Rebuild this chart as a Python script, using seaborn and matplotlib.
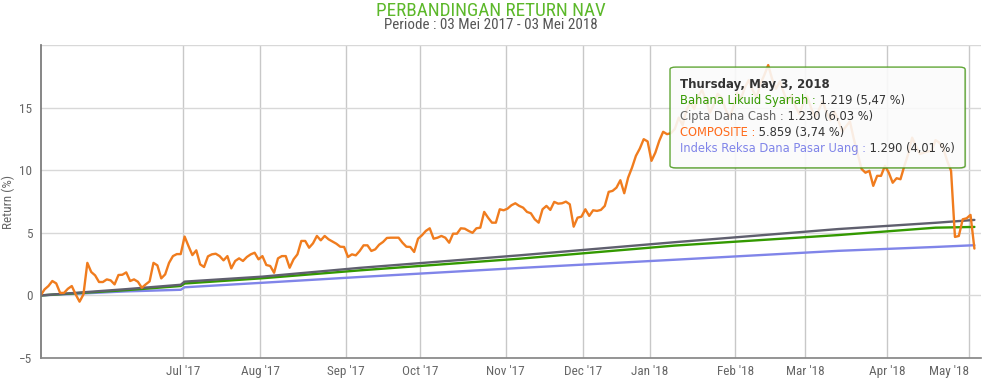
import numpy as np
import pandas as pd
import matplotlib
matplotlib.use("Agg")
import matplotlib.pyplot as plt
from matplotlib import font_manager as fm
from matplotlib.transforms import ScaledTranslation
import seaborn as sns
from matplotlib.patches import FancyBboxPatch

# days without a published NAV, May 2017 - May 2018
no_nav_days = ["2017-05-11", "2017-06-26", "2017-06-27", "2017-06-28", "2017-06-29",
               "2017-06-30", "2017-07-17", "2017-08-17", "2017-09-01", "2017-09-21",
               "2017-11-10", "2017-11-24", "2017-12-01", "2017-12-25", "2017-12-26",
               "2017-12-29", "2018-01-01", "2018-02-16", "2018-02-23", "2018-03-30",
               "2018-05-01"]
days = pd.bdate_range("2017-05-03", "2018-05-03").difference(pd.to_datetime(no_nav_days))

# COMPOSITE return (%) per NAV day
composite = [
    0.0, 0.48, 0.75, 1.15, 0.96, 0.2, 0.2, 0.53, 0.75, 0.08, -0.5, 0.08, 2.6, 1.87,
    1.6, 1.07, 1.07, 1.28, 1.2, 0.88, 1.63, 1.65, 1.84, 1.15, 1.28, 1.09, 0.61, 0.88,
    1.12, 2.6, 2.4, 1.36, 1.68, 2.6, 3.14, 3.3, 3.3, 4.7, 3.94, 3.22, 3.6, 2.48,
    2.27, 3.12, 3.28, 3.33, 3.14, 2.8, 3.14, 2.16, 2.75, 2.96, 2.75, 3.07, 3.28, 3.41,
    2.88, 3.14, 2.43, 2.35, 1.81, 2.96, 3.14, 3.14, 2.21, 2.88, 3.28, 4.35, 4.35, 3.81,
    4.16, 4.75, 4.4, 4.75, 4.48, 4.3, 4.13, 3.89, 3.87, 3.07, 3.28, 3.2,
    3.55, 4.0, 4.0, 3.55, 3.68, 4.05, 4.27, 4.59, 4.61, 4.61, 4.61, 4.21, 3.89, 3.87,
    3.47, 4.53, 4.8, 5.15, 5.36, 4.53, 4.61, 4.75, 4.61, 4.21, 4.93, 4.93, 5.36, 5.33,
    5.15, 5.0, 5.36, 5.41, 6.67, 6.21, 5.81, 5.81, 6.88, 6.8, 6.93, 7.2, 7.36,
    7.15, 7.01, 6.67, 6.56, 6.08, 5.81, 6.88, 7.15, 6.83, 7.47, 7.33, 7.36, 7.49, 7.28,
    5.49, 6.21, 6.29, 6.88, 6.35, 6.8, 6.75, 6.83, 7.15, 8.27, 8.35, 8.61, 9.2, 8.16,
    9.41, 10.21, 11.15, 11.73, 12.48, 12.3, 10.75, 11.41, 12.35, 13.07, 12.88, 12.96,
    13.3, 14.2, 13.6, 14.8, 15.4, 14.9, 15.9, 16.4, 15.6, 14.6, 15.2, 16.1, 15.8, 14.9,
    14.2, 15.0, 16.2, 15.7, 16.6, 17.2, 16.4, 15.8, 16.9, 17.6, 18.4, 17.3, 16.5, 17.1,
    16.2, 15.4, 16.0, 15.1, 14.5, 15.3, 15.9, 15.0, 14.2, 14.8, 15.5, 14.6, 14.0, 14.7,
    14.0, 13.1, 13.5, 13.9, 12.5, 11.3, 10.1, 9.8, 9.95, 8.75, 9.55, 9.55, 10.35, 9.8,
    9.0, 9.36, 9.28, 10.35, 11.3, 12.6, 11.9, 11.3, 11.4, 11.5, 11.55, 12.4, 12.2, 11.75,
    10.75, 9.95, 4.67, 4.75, 6.08, 6.16, 6.43, 3.74]

# smooth money-market series, read at a few dates
anchor_dates = ["2017-05-03", "2017-06-05", "2017-06-23", "2017-07-03", "2017-08-01",
                "2017-09-07", "2017-11-06", "2018-01-10", "2018-03-13", "2018-04-18",
                "2018-05-03"]
cipta = [0.0, 0.5, 0.85, 1.1, 1.5, 2.2, 3.2, 4.25, 5.3, 5.8, 6.03]
bahana = [0.0, 0.42, 0.75, 0.95, 1.37, 2.0, 2.93, 3.98, 4.82, 5.41, 5.47]
indeks = [0.0, 0.32, 0.45, 0.65, 1.01, 1.47, 2.19, 2.85, 3.56, 3.87, 4.01]

series_names = ["Bahana Likuid Syariah", "Cipta Dana Cash", "COMPOSITE",
                "Indeks Reksa Dana Pasar Uang"]
nav_values = ["1.219", "1.230", "5.859", "1.290"]
colors = {"Bahana Likuid Syariah": "#339900", "Cipta Dana Cash": "#5f5f6e",
          "COMPOSITE": "#f07c1e", "Indeks Reksa Dana Pasar Uang": "#8085e9"}
label_colors = ["#339900", "#666666", "#ff6a1a", "#8085e9"]

pos = np.arange(len(days))
anchor_pos = days.searchsorted(pd.to_datetime(anchor_dates))
frames = [pd.DataFrame({"x": pos, "ret": composite, "fund": "COMPOSITE"})]
for name, vals in [("Cipta Dana Cash", cipta), ("Bahana Likuid Syariah", bahana),
                   ("Indeks Reksa Dana Pasar Uang", indeks)]:
    frames.append(pd.DataFrame({"x": anchor_pos, "ret": vals, "fund": name}))
df = pd.concat(frames, ignore_index=True)

sns.set_theme(style="white")
plt.rcParams["font.family"] = ["DejaVu Sans"]
installed = {f.name for f in fm.fontManager.ttflist}
narrow = next((n for n in ["Liberation Sans Narrow", "Roboto Condensed",
                           "Open Sans Condensed"] if n in installed), "DejaVu Sans")
nfont = dict(family=narrow, fontstretch="condensed")

fig = plt.figure(figsize=(9.82, 3.79), dpi=100)
ax = fig.add_axes([0.0414, 0.0554, 0.9576, 0.8258])

for name in ["Indeks Reksa Dana Pasar Uang", "Bahana Likuid Syariah",
             "Cipta Dana Cash", "COMPOSITE"]:
    sns.lineplot(data=df[df.fund == name], x="x", y="ret", color=colors[name],
                 lw=1.7, ax=ax, sort=False, estimator=None, legend=False)

# month ticks on the boundary before the first NAV day of each month
month_first = pd.Series(pos, index=days).groupby(days.to_period("M")).min().iloc[2:]
ax.set_xticks(month_first.values - 0.5)
ax.set_xticklabels([f"{p.strftime('%b')} '{p.strftime('%y')}" for p in month_first.index],
                   fontsize=9.5, color="#666666", **nfont)
last = ax.get_xticklabels()[-1]
last.set_horizontalalignment("right")
last.set_transform(last.get_transform() + ScaledTranslation(0.13, 0, fig.dpi_scale_trans))
ax.set_xlim(0, 241.7)
ax.set_ylim(-5, 20)
ax.set_yticks([-5, 0, 5, 10, 15, 20])
ax.set_yticklabels(["\u22125", "0", "5", "10", "15", ""], fontsize=9.5,
                   color="#666666", **nfont)
ax.set_xlabel("")
ax.set_ylabel("Return (%)", fontsize=9.5, color="#666666", **nfont)
ax.yaxis.set_label_coords(-0.0275, 0.5)

ax.grid(True, axis="y", color="#d8d8d8", lw=1)
ax.grid(True, axis="x", color="#c8c8c8", lw=1)
ax.tick_params(axis="x", colors="#cc0000", length=4, width=1, pad=1,
               labelcolor="#666666")
ax.tick_params(axis="y", colors="#888888", length=3, width=1, pad=3,
               labelcolor="#666666")
for s in ["top", "right"]:
    ax.spines[s].set_visible(False)
ax.spines["left"].set_color("#777777")
ax.spines["bottom"].set_color("#888888")

fig.text(0.5, 0.995, "PERBANDINGAN RETURN NAV", ha="center", va="top",
         fontsize=13.8, color="#5cb82a", **nfont)
fig.text(0.5, 0.952, "Periode : 03 Mei 2017 - 03 Mei 2018", ha="center", va="top",
         fontsize=10.8, color="#555555", **nfont)

# tooltip
shadow = FancyBboxPatch((0.6835, 0.554), 0.3005, 0.266, transform=fig.transFigure,
                        boxstyle="round,pad=0,rounding_size=0.006",
                        fc="#000000", ec="none", alpha=0.12, zorder=5)
box = FancyBboxPatch((0.6823, 0.557), 0.3005, 0.266, transform=fig.transFigure,
                     boxstyle="round,pad=0,rounding_size=0.006",
                     fc="white", ec="#4a9a1a", lw=1, alpha=0.88, zorder=6)
fig.add_artist(shadow)
fig.add_artist(box)
fig.text(0.6925, 0.776, "Thursday, May 3, 2018", fontsize=8.5, weight="bold",
         color="#333333", va="center", zorder=7)
finals = [bahana[-1], cipta[-1], composite[-1], indeks[-1]]
renderer = fig.canvas.get_renderer()
for i, (name, nav, ret) in enumerate(zip(series_names, nav_values, finals)):
    y = 0.734 - i * 0.042
    t = fig.text(0.6925, y, name + " :", fontsize=8.3, color=label_colors[i],
                 va="center", zorder=7)
    bb = t.get_window_extent(renderer)
    ret_txt = f"{ret:.2f}".replace(".", ",")
    fig.text(bb.x1 / fig.bbox.width, y, f" {nav} ({ret_txt} %)",
             fontsize=8.3, color="#333333", va="center", zorder=7)

fig.savefig("out.png", dpi=100)
